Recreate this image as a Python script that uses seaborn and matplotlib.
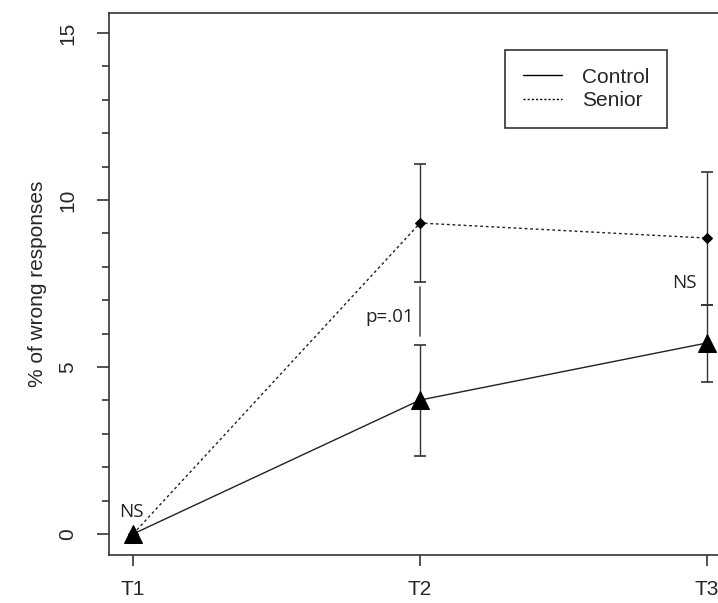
import matplotlib
matplotlib.use("Agg")
import matplotlib.pyplot as plt
import seaborn as sns
import pandas as pd
import numpy as np
from matplotlib.lines import Line2D

times = ["T1", "T2", "T3"]
control_mean = [0.0, 4.01, 5.72]
control_err_low = [0.0, 1.68, 1.18]
control_err_high = [0.0, 1.65, 1.14]
senior_mean = [0.0, 9.31, 8.86]
senior_err_low = [0.0, 1.78, 2.00]
senior_err_high = [0.0, 1.77, 1.98]
groups = ["Control", "Senior"]
y_ticks = [0, 5, 10, 15]

sns.set_theme(style="ticks")
plt.rcParams['font.family'] = ['Liberation Sans', 'DejaVu Sans']

fig = plt.figure(figsize=(7.18, 6.03), dpi=100)
ax = fig.add_axes([109/718, 48/603, 621/718, 542/603])

xpos = [1, 2, 3]
df = pd.DataFrame({
    "x": xpos * 2,
    "y": control_mean + senior_mean,
    "group": [groups[0]] * 3 + [groups[1]] * 3,
})

sns.lineplot(data=df[df.group == "Senior"], x="x", y="y", ax=ax, color="#222222",
             linewidth=1.0, linestyle=(0, (2, 2)), marker="D", markersize=5,
             markeredgecolor="black", markerfacecolor="black", legend=False, zorder=3)
sns.lineplot(data=df[df.group == "Control"], x="x", y="y", ax=ax, color="#222222",
             linewidth=1.0, marker="^", markersize=13,
             markeredgecolor="black", markerfacecolor="black", legend=False, zorder=4)

# error bars (T2, T3)
ax.errorbar(xpos[1:], senior_mean[1:], yerr=[senior_err_low[1:], senior_err_high[1:]],
            fmt="none", ecolor="#333333", elinewidth=1.0, capsize=4, capthick=1.2, zorder=2)
ax.errorbar(xpos[1:], control_mean[1:], yerr=[control_err_low[1:], control_err_high[1:]],
            fmt="none", ecolor="#333333", elinewidth=1.0, capsize=4, capthick=1.2, zorder=2)

# significance bracket at T2
ax.plot([2, 2], [5.93, 7.40], color="#555555", linewidth=1.2, zorder=2)

ann_font = ['Open Sans', 'DejaVu Sans']
ax.text(0.994, 0.40, "NS", ha="center", va="bottom", fontsize=13.5, family=ann_font, color="#222222")
ax.text(1.98, 6.5, "p=.01", ha="right", va="center", fontsize=13.5, family=ann_font, color="#222222")
ax.text(2.965, 7.5, "NS", ha="right", va="center", fontsize=13.5, family=ann_font, color="#222222")

ax.set_xlim(0.916, 3.08)
ax.set_ylim(-0.63, 15.6)
ax.set_xticks(xpos)
ax.set_xticklabels(times, fontsize=15)
ax.set_yticks(y_ticks)
ax.set_yticklabels([str(v) for v in y_ticks], fontsize=15, rotation=90, va="center")
ax.set_yticks(np.arange(0, 16, 1), minor=True)
ax.tick_params(axis="y", which="major", length=9, width=1.2, pad=14, color="#333333")
ax.tick_params(axis="y", which="minor", length=5, width=1.2, color="#333333")
ax.tick_params(axis="x", which="major", length=8, width=1.2, pad=10, color="#333333")
ax.set_xlabel("")
ax.set_ylabel("% of wrong responses", fontsize=15, labelpad=8)
for s in ax.spines.values():
    s.set_linewidth(1.2)
    s.set_color("#333333")

handles = [Line2D([], [], color="black", linewidth=1.0),
           Line2D([], [], color="black", linewidth=1.0, linestyle=(0, (1.5, 1.5)))]
leg = ax.legend(handles, groups, loc="upper left", fontsize=15, frameon=True, fancybox=False,
                edgecolor="black", handlelength=1.9, handletextpad=0.95, borderpad=0.85,
                labelspacing=0.2, borderaxespad=0)
leg.get_frame().set_linewidth(1.2)
leg.set_bbox_to_anchor((505/718, 1 - 50/603), transform=fig.transFigure)

fig.savefig("out.png", dpi=100)
